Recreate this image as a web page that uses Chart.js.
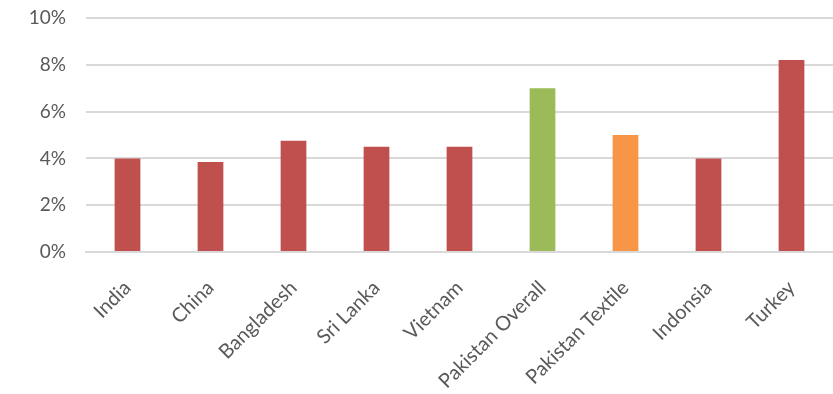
<!DOCTYPE html>
<html>
<head>
<meta charset="utf-8">
<script src="https://cdn.jsdelivr.net/npm/chart.js@4/dist/chart.umd.min.js"></script>
<style>
  html, body { margin: 0; padding: 0; background: #fff; }
  #wrap { width: 833px; height: 394px; }
</style>
</head>
<body>
<div id="wrap"><canvas id="chart"></canvas></div>
<script>
// Datos del gráfico
var paises = ["India", "China", "Bangladesh", "Sri Lanka", "Vietnam", "Pakistan Overall", "Pakistan Textile", "Indonsia", "Turkey"];
var valores = [4.0, 3.85, 4.75, 4.5, 4.5, 7.0, 5.0, 4.0, 8.2];
var colores = ["#C0504D", "#C0504D", "#C0504D", "#C0504D", "#C0504D", "#9BBB59", "#F79646", "#C0504D", "#C0504D"];
var marcasY = [0, 2, 4, 6, 8, 10];

var ctx = document.getElementById("chart").getContext("2d");
var chart = new Chart(ctx, {
    type: "bar",
    data: {
        labels: paises,
        datasets: [{
            data: valores,
            backgroundColor: colores,
            barPercentage: 0.31,
            categoryPercentage: 1.0
        }]
    },
    options: {
        responsive: true,
        maintainAspectRatio: false,
        animation: false,
        layout: { padding: 0 },
        plugins: {
            legend: { display: false },
            tooltip: { enabled: false }
        },
        scales: {
            x: {
                grid: { display: false },
                border: { color: "#d9d9d9", width: 2 },
                ticks: {
                    color: "#595959",
                    font: { family: "Lato", size: 20 },
                    maxRotation: 45,
                    minRotation: 45,
                    padding: 16
                },
                afterFit: function (s) { s.height = 142; }
            },
            y: {
                min: 0,
                max: 10,
                afterBuildTicks: function (s) { s.ticks = marcasY.map(v => ({ value: v })); },
                grid: { color: "#d9d9d9", lineWidth: 2, drawTicks: false },
                border: { display: false },
                ticks: {
                    color: "#595959",
                    font: { family: "Lato", size: 19 },
                    padding: 20,
                    callback: function (v) { return v + "%"; }
                },
                afterFit: function (s) {
                    s.width = 86;
                    s.paddingTop = 18;
                    s.paddingBottom = 12;
                }
            }
        }
    }
});
</script>
</body>
</html>
